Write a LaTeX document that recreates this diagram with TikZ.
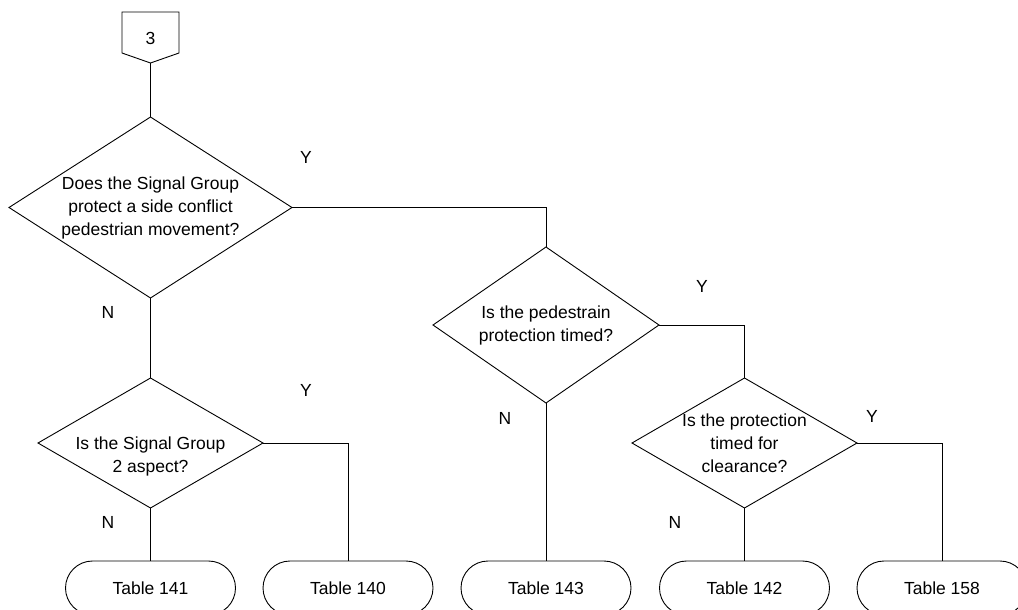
\documentclass[tikz,border=0pt]{standalone}
\usepackage{fontspec}
\setmainfont{Liberation Sans}
\usetikzlibrary{shapes.geometric}
\begin{document}
\begin{tikzpicture}[x=1pt,y=-1pt,
  every node/.style={font=\fontsize{17.5}{23}\selectfont, inner sep=0pt, outer sep=0pt},
  conn/.style={draw, line width=0.9pt},
  dia/.style={shape=diamond, draw, line width=0.9pt, inner sep=0pt, outer sep=0pt},
  dtext/.style={align=center},
  tbl/.style={draw, line width=0.9pt, rounded corners=27pt, minimum width=170pt, minimum height=54pt},
  yn/.style={}
]
\useasboundingbox (0,0) rectangle (1018,610);
\clip (0,0) rectangle (1018,610);

% off-page connector
\draw[line width=0.9pt] (122,12) -- (179,12) -- (179,53) -- (150.5,63) -- (122,53) -- cycle;
\node (p3) at (150.5,38) {3};
\coordinate (p3b) at (150.5,63);

% decisions
\node[dia, minimum width=283pt, minimum height=181pt] (d1) at (150.5,207.5) {};
\node[dtext] (d1t) at (150.5,208) {Does the Signal Group\\protect a side conflict\\pedestrian movement?};

\node[dia, minimum width=226pt, minimum height=156pt] (d2) at (546,325) {};
\node[dtext] (d2t) at (546,325.5) {Is the pedestrain\\protection timed?};

\node[dia, minimum width=225pt, minimum height=130pt] (d4) at (150.5,443) {};
\node[dtext] (d4t) at (150.5,456) {Is the Signal Group\\2 aspect?};

\node[dia, minimum width=225pt, minimum height=130pt] (d3) at (744.5,443) {};
\node[dtext] (d3t) at (744.5,443) {Is the protection\\timed for\\clearance?};

% terminals
\node[tbl] (t141) at (150.5,588) {Table 141};
\node[tbl] (t140) at (348,588) {Table 140};
\node[tbl] (t143) at (546,588) {Table 143};
\node[tbl] (t142) at (744.5,588) {Table 142};
\node[tbl] (t158) at (942,588) {Table 158};

% labels
\node[yn] (y1) at (306,157) {Y};
\node[yn] (n1) at (108,312) {N};
\node[yn] (y2) at (702,286) {Y};
\node[yn] (n2) at (505,418) {N};
\node[yn] (y4) at (306,390) {Y};
\node[yn] (n4) at (108,522) {N};
\node[yn] (y3) at (872,416) {Y};
\node[yn] (n3) at (675,522) {N};

% connectors
\draw[conn] (p3b) -- (d1.north);
\draw[conn] (d1.east) -| (d2.north);
\draw[conn] (d1.south) -- (d4.north);
\draw[conn] (d2.east) -| (d3.north);
\draw[conn] (d2.south) -- (t143.north);
\draw[conn] (d4.south) -- (t141.north);
\draw[conn] (d4.east) -| (t140.north);
\draw[conn] (d3.south) -- (t142.north);
\draw[conn] (d3.east) -| (t158.north);
\end{tikzpicture}
\end{document}
